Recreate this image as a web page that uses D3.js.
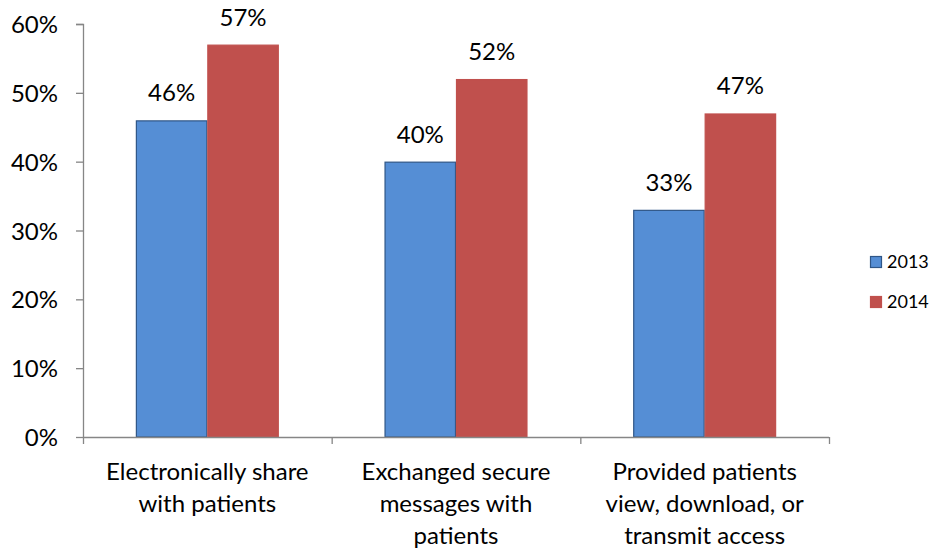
<!DOCTYPE html>
<html>
<head>
<meta charset="utf-8">
<script src="https://cdn.jsdelivr.net/npm/d3@7"></script>
<style>
  body { margin: 0; background: #fff; }
  svg text { font-family: Lato, "Open Sans", sans-serif; fill: #000; }
</style>
</head>
<body>
<svg id="chart" width="933" height="551"></svg>
<script>
const categories = [
  ["Electronically share", "with patients"],
  ["Exchanged secure", "messages with", "patients"],
  ["Provided patients", "view, download, or", "transmit access"]
];
const seriesNames = ["2013", "2014"];
const values2013 = [46, 40, 33];
const values2014 = [57, 52, 47];
const yTicks = [0, 10, 20, 30, 40, 50, 60];
const colors = { "2013": "#558ED5", "2014": "#C0504D" };
const strokes = { "2013": "#2F5687", "2014": "#C0504D" };

const svg = d3.select("#chart");
const margin = { left: 83, top: 24, right: 104, bottom: 114 };
const width = 933 - margin.left - margin.right;
const height = 551 - margin.top - margin.bottom;
const g = svg.append("g").attr("transform", `translate(${margin.left},${margin.top})`);

const x0 = d3.scaleBand().domain(d3.range(categories.length)).range([0, width]).paddingInner(0).paddingOuter(0);
const x1 = d3.scaleBand().domain(seriesNames).range([0, x0.bandwidth()]).paddingInner(0).paddingOuter(0.74);
const y = d3.scaleLinear().domain([0, 60]).range([height, 0]);

// Y axis
const yAxis = g.append("g").call(d3.axisLeft(y).tickValues(yTicks).tickFormat(d => d + "%").tickSize(7).tickPadding(18));
yAxis.select(".domain").attr("stroke", "#868686").attr("stroke-width", 1.3).attr("d", `M-7,0.5H0.5V${height}`);
yAxis.selectAll(".tick line").attr("stroke", "#868686").attr("stroke-width", 1.3);
yAxis.selectAll(".tick text").attr("font-size", 24).attr("font-family", "Lato").attr("fill", "#000").attr("dy", "0.36em");

// Bars
const data = categories.map((c, i) => ({ i, vals: [
  { s: "2013", v: values2013[i] }, { s: "2014", v: values2014[i] }
]}));
const groups = g.selectAll(".grp").data(data).join("g").attr("transform", d => `translate(${x0(d.i)},0)`);
groups.selectAll("rect").data(d => d.vals).join("rect")
  .attr("x", d => x1(d.s) + 0.5)
  .attr("y", d => y(d.v) + 0.5)
  .attr("width", x1.bandwidth() - 1)
  .attr("height", d => height - y(d.v) - 0.5)
  .attr("fill", d => colors[d.s])
  .attr("stroke", d => strokes[d.s])
  .attr("stroke-width", 1.2);
groups.selectAll("text.lbl").data(d => d.vals).join("text").attr("class", "lbl")
  .attr("x", d => x1(d.s) + x1.bandwidth() / 2)
  .attr("y", d => y(d.v) - 19)
  .attr("text-anchor", "middle")
  .attr("font-size", 24)
  .text(d => d.v + "%");

// X axis
const xAxisG = g.append("g").attr("transform", `translate(0,${height})`);
xAxisG.append("line").attr("x1", 0).attr("x2", width).attr("y1", 0.5).attr("y2", 0.5)
  .attr("stroke", "#868686").attr("stroke-width", 1.3);
const boundaries = d3.range(categories.length).map(i => x0(i)).concat([width]);
xAxisG.selectAll("line.tk").data(boundaries).join("line").attr("class", "tk")
  .attr("x1", d => d + 0.5).attr("x2", d => d + 0.5).attr("y1", 0).attr("y2", 7)
  .attr("stroke", "#868686").attr("stroke-width", 1.3);
xAxisG.selectAll("text.cat").data(categories).join("text").attr("class", "cat")
  .attr("text-anchor", "middle")
  .attr("font-size", 24)
  .attr("transform", (d, i) => `translate(${x0(i) + x0.bandwidth() / 2},43)`)
  .selectAll("tspan").data(d => d).join("tspan")
  .attr("x", 0).attr("dy", (d, j) => j === 0 ? 0 : 32).text(d => d);

// Legend
const legend = svg.append("g").attr("transform", "translate(870,256)");
seriesNames.forEach((s, i) => {
  const lg = legend.append("g").attr("transform", `translate(0,${i * 40})`);
  lg.append("rect").attr("x", 0.5).attr("y", 0.5).attr("width", 11).attr("height", 11)
    .attr("fill", colors[s]).attr("stroke", strokes[s]).attr("stroke-width", 1.2);
  lg.append("text").attr("x", 17).attr("y", 6).attr("dy", "0.36em").attr("font-size", 18).text(s);
});
</script>
</body>
</html>
